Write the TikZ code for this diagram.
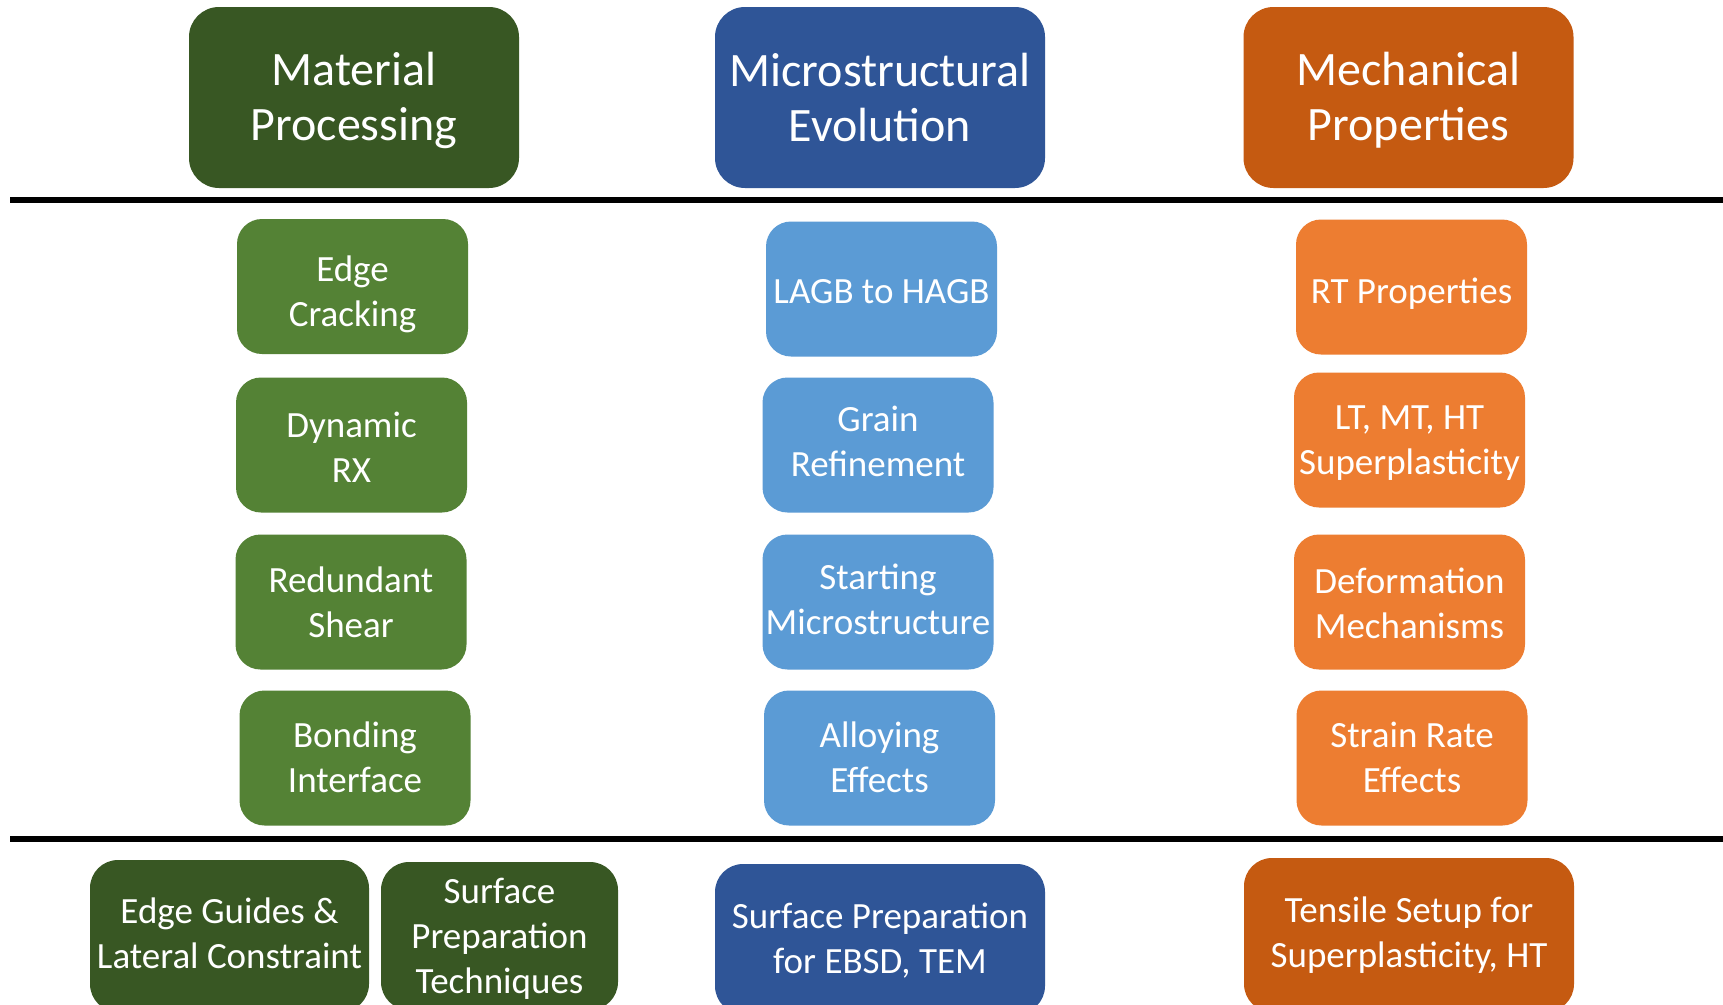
\documentclass[tikz,border=0pt]{standalone}
\usepackage{fontspec}
\setmainfont{Carlito}
\definecolor{hdgreen}{HTML}{385723}
\definecolor{bxgreen}{HTML}{548235}
\definecolor{hdblue}{HTML}{2F5597}
\definecolor{bxblue}{HTML}{5B9BD5}
\definecolor{hdorange}{HTML}{C55A11}
\definecolor{bxorange}{HTML}{ED7D31}
\tikzset{
  x=1pt, y=-1pt,
  base/.style={rectangle, inner sep=0pt},
  header/.style={base, rounded corners=30pt, minimum width=330pt, minimum height=181pt},
  item/.style={base, rounded corners=25pt, minimum width=231pt, minimum height=135pt},
  foot/.style={base, rounded corners=28pt},
  htext/.style={text=white, align=center, inner sep=0pt, font=\fontsize{48}{55}\selectfont},
  btext/.style={text=white, align=center, inner sep=0pt, font=\fontsize{37}{45}\selectfont},
  rule/.style={line width=6pt, black}
}
\begin{document}
\begin{tikzpicture}
\useasboundingbox (0,0) rectangle (1723,1004);
\clip (0,0) rectangle (1723,1004);
\fill[white] (0,0) rectangle (1723,1004);

% column headers
\node[header, fill=hdgreen]  (mp) at (354,97.5)    {};
\node[header, fill=hdblue]   (me) at (880,97.5)    {};
\node[header, fill=hdorange] (mc) at (1408.5,97.5) {};
\node[htext, yshift=-3pt] (mp-t) at (mp) {Material\\Processing};
\node[htext]              (me-t) at (me) {Microstructural\\Evolution};
\node[htext, yshift=-3pt] (mc-t) at (mc) {Mechanical\\Properties};

% separator rules
\coordinate (r1a) at (10,200);  \coordinate (r1b) at (1723,200);
\coordinate (r2a) at (10,839);  \coordinate (r2b) at (1723,839);
\draw[rule] (r1a) -- (r1b);
\draw[rule] (r2a) -- (r2b);

% processing topics
\node[item, fill=bxgreen] (ec) at (352.5,286.5) {};
\node[item, fill=bxgreen] (dr) at (351.5,445)   {};
\node[item, fill=bxgreen] (rs) at (351,602)     {};
\node[item, fill=bxgreen] (bi) at (355,758)     {};
\node[btext, yshift=-8pt] (ec-t) at (ec) {Edge\\Cracking};
\node[btext, yshift=-2pt] (dr-t) at (dr) {Dynamic\\RX};
\node[btext]              (rs-t) at (rs) {Redundant\\Shear};
\node[btext, yshift=1pt]  (bi-t) at (bi) {Bonding\\Interface};

% microstructure topics
\node[item, fill=bxblue] (lh) at (881.5,289) {};
\node[item, fill=bxblue] (gr) at (878,445)   {};
\node[item, fill=bxblue] (sm) at (878,602)   {};
\node[item, fill=bxblue] (ae) at (879.5,758) {};
\node[btext, yshift=-3pt] (lh-t) at (lh) {LAGB to HAGB};
\node[btext, yshift=4pt]  (gr-t) at (gr) {Grain\\Refinement};
\node[btext, yshift=3pt]  (sm-t) at (sm) {Starting\\Microstructure};
\node[btext, yshift=1pt]  (ae-t) at (ae) {Alloying\\Effects};

% property topics
\node[item, fill=bxorange] (rt) at (1411.5,287) {};
\node[item, fill=bxorange] (lt) at (1409.5,440) {};
\node[item, fill=bxorange] (dm) at (1409.5,602) {};
\node[item, fill=bxorange] (sr) at (1412,758)   {};
\node[btext, yshift=-7pt] (rt-t) at (rt) {RT Properties};
\node[btext, yshift=-3pt] (lt-t) at (lt) {LT, MT, HT\\Superplasticity};
\node[btext, yshift=-1pt] (dm-t) at (dm) {Deformation\\Mechanisms};
\node[btext, yshift=1pt]  (sr-t) at (sr) {Strain Rate\\Effects};

% methods row (boxes run past the lower edge)
\node[foot, fill=hdgreen, minimum width=279pt, minimum height=152pt] (eg) at (229.5,936) {};
\node[foot, fill=hdgreen, minimum width=237pt, minimum height=148pt] (st) at (499.5,936) {};
\node[foot, fill=hdblue, minimum width=330pt, minimum height=150pt] (sp) at (880,939) {};
\node[foot, fill=hdorange, minimum width=330pt, minimum height=154pt] (ts) at (1409,935) {};
\node[btext, yshift=3pt]  (eg-t) at (eg) {Edge Guides \&\\Lateral Constraint};
\node[btext, yshift=-3pt] (st-t) at (st) {Surface\\Preparation\\Techniques};
\node[btext, yshift=-2pt] (sp-t) at (sp) {Surface Preparation\\for EBSD, TEM};
\node[btext]              (ts-t) at (ts) {Tensile Setup for\\Superplasticity, HT};
\end{tikzpicture}
\end{document}
